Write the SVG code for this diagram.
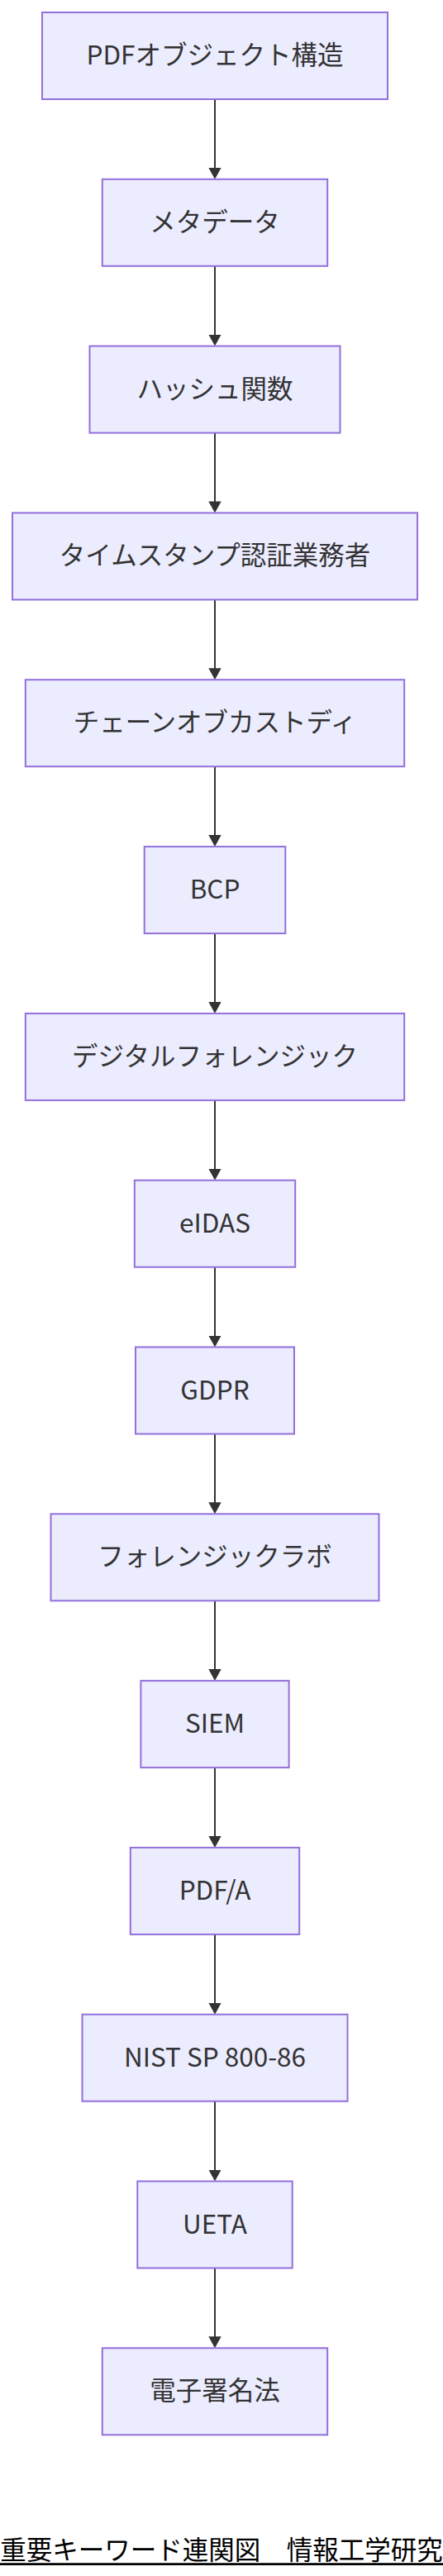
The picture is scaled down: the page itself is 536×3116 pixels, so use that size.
<svg xmlns="http://www.w3.org/2000/svg" width="536" height="3116" viewBox="0 0 536 3116">
<style>
.node rect{fill:#ECECFF;stroke:#9370DB;stroke-width:2}
.node text{font-family:"Noto Sans CJK JP","Noto Sans",sans-serif;font-size:31.5px;fill:#333333;text-anchor:middle}
.edge{stroke:#333333;stroke-width:2;fill:none;marker-end:url(#arrow)}
.title{font-family:"Noto Sans CJK JP",sans-serif;font-size:31.5px;fill:#000000}
</style>
<defs>
<marker id="arrow" markerUnits="userSpaceOnUse" markerWidth="14" markerHeight="16" viewBox="0 0 14 16" refX="10" refY="8" orient="auto">
<path d="M0,0.3 L14,8 L0,15.7 z" fill="#333333"/>
</marker>
</defs>
<rect x="0" y="0" width="536" height="3116" fill="#ffffff"/>
<g id="connectors">
<path class="edge" d="M260,120 L260,212.8"/>
<path class="edge" d="M260,321.8 L260,414.6"/>
<path class="edge" d="M260,523.6 L260,616.4"/>
<path class="edge" d="M260,725.4 L260,818.2"/>
<path class="edge" d="M260,927.2 L260,1020.1"/>
<path class="edge" d="M260,1129.1 L260,1221.9"/>
<path class="edge" d="M260,1330.9 L260,1423.7"/>
<path class="edge" d="M260,1532.7 L260,1625.5"/>
<path class="edge" d="M260,1734.5 L260,1827.3"/>
<path class="edge" d="M260,1936.3 L260,2029.1"/>
<path class="edge" d="M260,2138.1 L260,2230.9"/>
<path class="edge" d="M260,2339.9 L260,2432.7"/>
<path class="edge" d="M260,2541.7 L260,2634.5"/>
<path class="edge" d="M260,2743.5 L260,2836.3"/>
</g>
<g id="n1" class="node"><rect x="51" y="15" width="418" height="105"/><text x="260" y="78">PDFオブジェクト構造</text></g>
<g id="n2" class="node"><rect x="123.8" y="216.8" width="272.4" height="105"/><text x="260" y="279.8">メタデータ</text></g>
<g id="n3" class="node"><rect x="108.5" y="418.6" width="303" height="105"/><text x="260" y="481.6">ハッシュ関数</text></g>
<g id="n4" class="node"><rect x="15" y="620.4" width="490" height="105"/><text x="260" y="683.4">タイムスタンプ認証業務者</text></g>
<g id="n5" class="node"><rect x="30.8" y="822.2" width="458.4" height="105"/><text x="260" y="885.2">チェーンオブカストディ</text></g>
<g id="n6" class="node"><rect x="174.7" y="1024.1" width="170.6" height="105"/><text x="260" y="1087.1">BCP</text></g>
<g id="n7" class="node"><rect x="30.8" y="1225.9" width="458.4" height="105"/><text x="260" y="1288.9">デジタルフォレンジック</text></g>
<g id="n8" class="node"><rect x="162.8" y="1427.7" width="194.4" height="105"/><text x="260" y="1490.7">eIDAS</text></g>
<g id="n9" class="node"><rect x="164" y="1629.5" width="192" height="105"/><text x="260" y="1692.5">GDPR</text></g>
<g id="n10" class="node"><rect x="61.5" y="1831.3" width="397" height="105"/><text x="260" y="1894.3">フォレンジックラボ</text></g>
<g id="n11" class="node"><rect x="170.4" y="2033.1" width="179.2" height="105"/><text x="260" y="2096.1">SIEM</text></g>
<g id="n12" class="node"><rect x="157.8" y="2234.9" width="204.4" height="105"/><text x="260" y="2297.9">PDF/A</text></g>
<g id="n13" class="node"><rect x="99.5" y="2436.7" width="321" height="105"/><text x="260" y="2499.7">NIST SP 800-86</text></g>
<g id="n14" class="node"><rect x="166.3" y="2638.5" width="187.4" height="105"/><text x="260" y="2701.5">UETA</text></g>
<g id="n15" class="node"><rect x="123.8" y="2840.3" width="272.4" height="105"/><text x="260" y="2903.3">電子署名法</text></g>
<g id="title">
<text class="title" x="0.2" y="3096">重要キーワード連関図　情報工学研究</text>
<line x1="0" y1="3101.6" x2="536" y2="3101.6" stroke="#000000" stroke-width="2.8"/>
</g>
</svg>
